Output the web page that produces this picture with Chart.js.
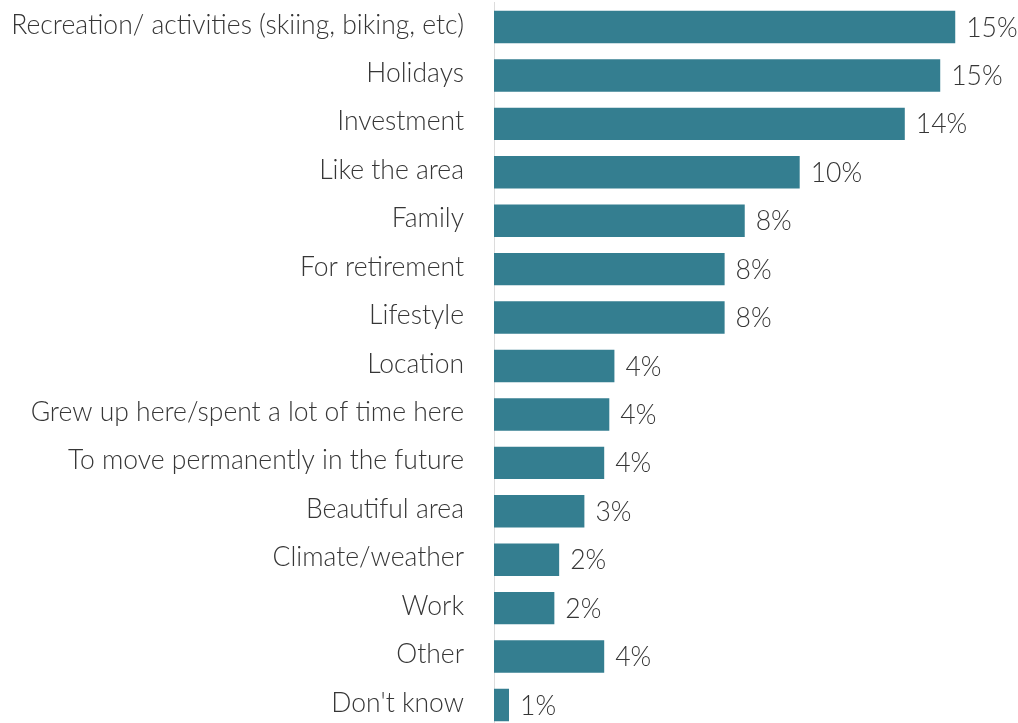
<!DOCTYPE html>
<html>
<head>
<meta charset="utf-8">
<script src="https://cdn.jsdelivr.net/npm/chart.js@4"></script>
<style>
  html, body { margin: 0; padding: 0; background: #fff; overflow: hidden; }
  canvas { display: block; }
</style>
</head>
<body>
<canvas id="reasonsChart" width="1018" height="732"></canvas>
<script>
const categories = [
  'Recreation/ activities (skiing, biking, etc)',
  'Holidays',
  'Investment',
  'Like the area',
  'Family',
  'For retirement',
  'Lifestyle',
  'Location',
  'Grew up here/spent a lot of time here',
  'To move permanently in the future',
  'Beautiful area',
  'Climate/weather',
  'Work',
  'Other',
  "Don't know"
];

const shares = [15.36, 14.86, 13.68, 10.18, 8.35, 7.68, 7.68, 4.01, 3.84, 3.67, 3.01, 2.17, 2.01, 3.67, 0.5];

const barColor = '#347e90';
const textColor = '#363636';
const fontFamily = 'Lato, "Open Sans", sans-serif';

// draws "15%" etc. just right of each bar
const valueLabels = {
  id: 'valueLabels',
  afterDatasetsDraw(chart) {
    const { ctx } = chart;
    const meta = chart.getDatasetMeta(0);
    ctx.save();
    ctx.font = `300 26.5px ${fontFamily}`;
    ctx.fillStyle = textColor;
    ctx.textAlign = 'left';
    ctx.textBaseline = 'middle';
    meta.data.forEach((bar, i) => {
      ctx.fillText(Math.round(shares[i]) + '%', bar.x + 11, bar.y + 1);
    });
    ctx.restore();
  }
};

new Chart(document.getElementById('reasonsChart'), {
  type: 'bar',
  data: {
    labels: categories,
    datasets: [{
      data: shares,
      backgroundColor: barColor,
      categoryPercentage: 1,
      barPercentage: 0.67
    }]
  },
  options: {
    indexAxis: 'y',
    responsive: false,
    animation: false,
    layout: { padding: { top: 2.8, bottom: 2.8, left: 0, right: 0 } },
    plugins: {
      legend: { display: false },
      tooltip: { enabled: false }
    },
    scales: {
      x: {
        display: false,
        min: 0,
        max: 17.45
      },
      y: {
        afterFit(scale) {
          scale.width = 494;
          scale.paddingTop = 0;
          scale.paddingBottom = 0;
        },
        grid: { display: false, drawTicks: false },
        border: { display: true, color: '#dcdcdc', width: 1 },
        ticks: {
          padding: 30,
          labelOffset: -2,
          color: textColor,
          font: { family: fontFamily, size: 26.5, weight: 300 }
        }
      }
    }
  },
  plugins: [valueLabels]
});
</script>
</body>
</html>
